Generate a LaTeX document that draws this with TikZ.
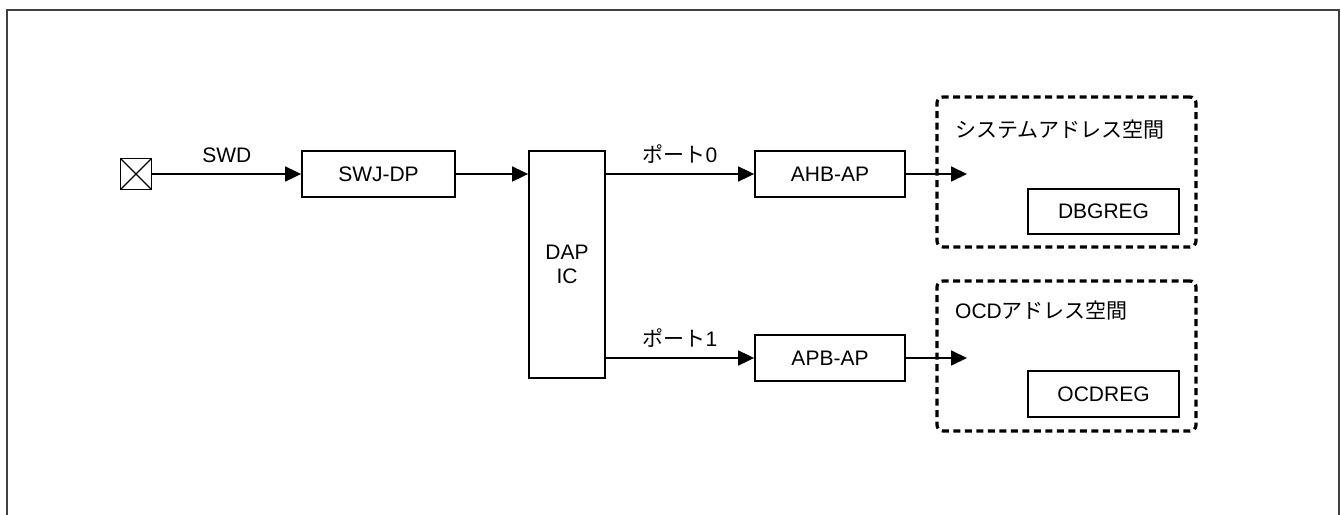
\documentclass[tikz,border=0pt]{standalone}
\usepackage{fontspec}
\setmainfont{Liberation Sans}
\newfontfamily\jp{Noto Sans CJK JP}
\usetikzlibrary{arrows.meta}
\begin{document}
\begin{tikzpicture}[x=1pt,y=-1pt,
  every node/.style={font=\fontsize{21}{24}\selectfont},
  box/.style={draw, line width=1.8pt, minimum width=152pt, minimum height=46pt, inner sep=0pt},
  space/.style={draw, line width=3.2pt, dash pattern=on 7pt off 4.5pt, rounded corners=6pt, minimum width=259pt, minimum height=150pt, inner sep=0pt},
  arr/.style={line width=1.8pt, -{Triangle[length=16pt,width=15pt]}},
  lbl/.style={inner sep=0pt}]
\useasboundingbox (0,0) rectangle (1341,514);
\draw[line width=1.8pt, black!75] (7,516) -- (7,10) -- (1339,10) -- (1339,516);

\node[space] (sys) at (1066.5,172) {};
\node[space] (ocd) at (1066.5,356) {};
\node[lbl, anchor=west] (syslbl) at (955,130) {\jp システムアドレス空間};
\node[lbl, anchor=west] (ocdlbl) at (955,311) {OCD{\jp アドレス空間}};

\node[draw, line width=1.8pt, minimum size=31pt, inner sep=0pt,
  path picture={\draw[line width=1.3pt] (path picture bounding box.north west) -- (path picture bounding box.south east)
    (path picture bounding box.north east) -- (path picture bounding box.south west);}] (term) at (136,174) {};
\node[box, minimum width=153pt] (swj) at (378.5,174) {SWJ-DP};
\node[box, minimum width=76pt, minimum height=227pt, align=center] (dap) at (567,264.5) {DAP\\IC};
\node[box, minimum width=150pt] (ahb) at (830,174) {AHB-AP};
\node[box, minimum width=150pt] (apb) at (830,358) {APB-AP};
\node[box, minimum width=151pt, minimum height=45pt] (dbg) at (1103.5,211.5) {DBGREG};
\node[box, minimum width=151pt] (ocdreg) at (1103.5,394) {OCDREG};

\coordinate (sysin) at (967,174);
\coordinate (ocdin) at (967,358);

\draw[arr] (term.east) -- node[lbl, above=10pt] (swdlbl) {SWD} (swj.west);
\draw[arr] (swj.east) -- (swj.east -| dap.west);
\draw[arr] (ahb.west -| dap.east) -- node[lbl, above=10pt] (p0) {{\jp ポート}0} (ahb.west);
\draw[arr] (apb.west -| dap.east) -- node[lbl, above=10pt] (p1) {{\jp ポート}1} (apb.west);
\draw[arr] (ahb.east) -- (sysin);
\draw[arr] (apb.east) -- (ocdin);
\end{tikzpicture}
\end{document}
